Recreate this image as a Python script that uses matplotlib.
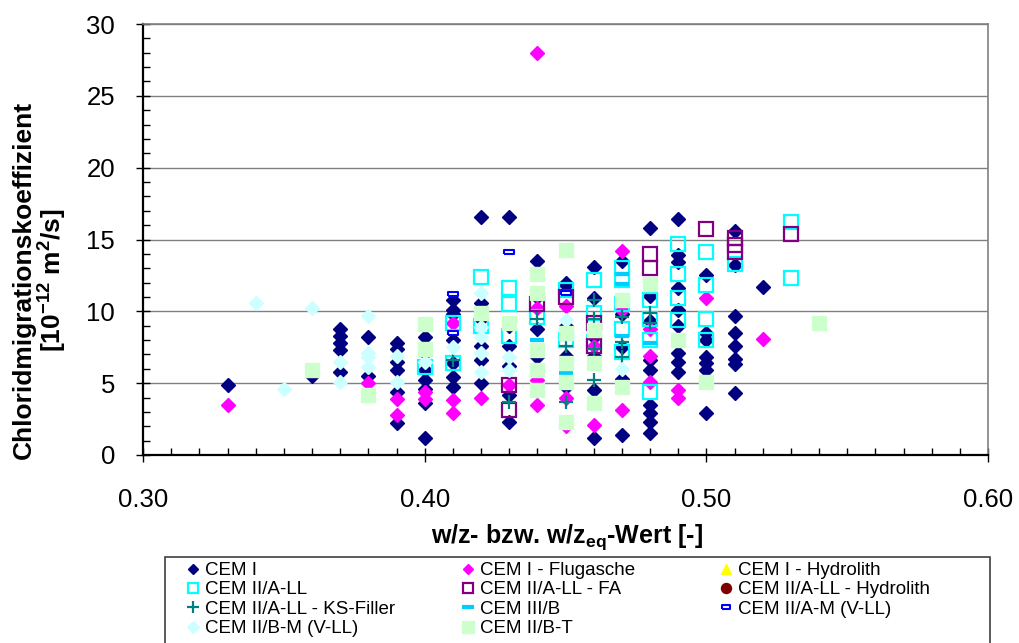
import numpy as np
import matplotlib
matplotlib.use("Agg")
import matplotlib.pyplot as plt
from matplotlib.patches import Rectangle
from matplotlib.ticker import MultipleLocator, FormatStrFormatter

plt.rcParams['font.family'] = ['Liberation Sans', 'DejaVu Sans']
plt.rcParams['mathtext.fontset'] = 'custom'
plt.rcParams['mathtext.rm'] = 'Liberation Sans'
plt.rcParams['mathtext.bf'] = 'Liberation Sans:bold'

# CEM I
cem1_x = [0.33, 0.36, 0.37, 0.37, 0.37, 0.37, 0.37, 0.38, 0.38,
          0.39, 0.39, 0.39, 0.39, 0.39, 0.39,
          0.40, 0.40, 0.40, 0.40, 0.40, 0.40, 0.40,
          0.41, 0.41, 0.41, 0.41, 0.41, 0.41, 0.41,
          0.42, 0.42, 0.42, 0.42, 0.42, 0.42,
          0.43, 0.43, 0.43, 0.43, 0.43, 0.43,
          0.44, 0.44, 0.44, 0.44, 0.44,
          0.45, 0.45, 0.45, 0.45, 0.45,
          0.46, 0.46, 0.46, 0.46, 0.46, 0.46,
          0.47, 0.47, 0.47, 0.47, 0.47,
          0.48, 0.48, 0.48, 0.48, 0.48, 0.48, 0.48, 0.48, 0.48,
          0.49, 0.49, 0.49, 0.49, 0.49, 0.49, 0.49, 0.49, 0.49,
          0.50, 0.50, 0.50, 0.50, 0.50, 0.50, 0.50,
          0.51, 0.51, 0.51, 0.51, 0.51, 0.51, 0.51, 0.51,
          0.52]
cem1_y = [4.9, 5.5, 8.8, 8.3, 7.8, 7.3, 5.8, 8.2, 5.5,
          7.8, 7.4, 6.5, 5.9, 4.4, 2.2,
          8.2, 7.1, 5.9, 5.2, 4.6, 3.6, 1.2,
          10.8, 10.1, 6.4, 5.4, 4.7, 9.8, 8.0,
          16.6, 10.6, 7.6, 6.6, 5.0, 9.5,
          16.6, 7.6, 2.3, 6.2, 4.2, 9.0,
          13.5, 8.8, 6.8, 11.0, 5.6,
          12.0, 11.8, 9.0, 6.9, 4.7,
          13.1, 10.9, 4.5, 1.2, 8.2, 6.9,
          13.5, 5.3, 1.4, 9.8, 7.5,
          15.8, 11.1, 5.9, 3.5, 2.9, 2.3, 1.5, 9.3, 6.6,
          16.4, 13.9, 13.4, 11.6, 10.1, 7.1, 6.5, 5.8, 9.0,
          12.5, 8.5, 6.8, 6.4, 5.9, 2.9, 8.0,
          15.6, 13.2, 9.7, 8.5, 7.6, 6.7, 6.3, 4.3,
          11.7]

# CEM I - Flugasche
fa_x = [0.33, 0.38, 0.39, 0.39, 0.40, 0.40, 0.41, 0.41, 0.41, 0.42, 0.43,
        0.44, 0.44, 0.44, 0.44, 0.45, 0.45, 0.45, 0.46, 0.46,
        0.47, 0.47, 0.47, 0.48, 0.48, 0.48, 0.49, 0.49, 0.50, 0.52]
fa_y = [3.5, 5.0, 3.9, 2.8, 4.4, 3.9, 9.2, 3.8, 2.9, 4.0, 4.9,
        28.0, 10.2, 5.2, 3.5, 10.4, 4.0, 2.0, 7.6, 2.1,
        14.2, 10.1, 3.1, 8.8, 6.9, 5.1, 4.5, 4.0, 10.9, 8.1]

# CEM I - Hydrolith (keine sichtbaren Punkte)
hyd_x = []
hyd_y = []

# CEM II/A-LL
ll_x = [0.40, 0.41, 0.41, 0.42, 0.42, 0.43, 0.43, 0.43, 0.44, 0.45, 0.45,
        0.46, 0.46, 0.46, 0.47, 0.47, 0.47, 0.47, 0.47,
        0.48, 0.48, 0.48, 0.48, 0.49, 0.49, 0.49, 0.49,
        0.50, 0.50, 0.50, 0.50, 0.51, 0.53, 0.53]
ll_y = [6.1, 9.2, 6.4, 12.4, 9.0, 11.6, 10.5, 8.3, 9.6, 11.5, 8.0,
        12.2, 9.9, 7.9, 13.0, 12.2, 8.8, 7.2, 10.5,
        10.8, 8.0, 4.4, 9.5, 14.7, 12.6, 10.9, 9.4,
        14.1, 11.8, 9.5, 8.0, 13.3, 16.2, 12.3]

# CEM II/A-LL - FA
llfa_x = [0.43, 0.43, 0.44, 0.45, 0.46, 0.46, 0.48, 0.48, 0.50,
          0.51, 0.51, 0.51, 0.53]
llfa_y = [4.9, 3.1, 10.5, 11.0, 9.2, 7.6, 14.0, 13.0, 15.7,
          15.1, 14.6, 14.1, 15.4]

# CEM II/A-LL - Hydrolith (keine sichtbaren Punkte)
llhyd_x = []
llhyd_y = []

# CEM II/A-LL - KS-Filler
ks_x = [0.41, 0.43, 0.44, 0.45, 0.45, 0.46, 0.46, 0.46, 0.46,
        0.47, 0.47, 0.47, 0.48, 0.48]
ks_y = [6.6, 3.7, 9.5, 7.6, 3.7, 10.8, 7.4, 5.2, 9.5,
        9.6, 7.9, 6.8, 9.9, 9.2]

# CEM III/B
c3_x = [0.44, 0.45, 0.47, 0.47, 0.47, 0.48]
c3_y = [8.0, 5.7, 12.6, 11.9, 8.3, 7.8]

# CEM II/A-M (V-LL)
am_x = [0.41, 0.41, 0.43, 0.45]
am_y = [11.2, 8.5, 14.1, 11.3]

# CEM II/B-M (V-LL)
bm_x = [0.34, 0.35, 0.36, 0.37, 0.37, 0.38, 0.38, 0.38, 0.38, 0.39, 0.39,
        0.40, 0.41, 0.42, 0.42, 0.42, 0.42, 0.42, 0.43, 0.43, 0.45, 0.47]
bm_y = [10.6, 4.6, 10.2, 6.5, 5.1, 9.7, 7.1, 6.8, 6.1, 6.9, 5.1,
        6.5, 7.5, 11.3, 8.9, 8.2, 7.1, 5.8, 6.8, 5.9, 9.4, 6.0]

# CEM II/B-T
bt_x = [0.36, 0.38, 0.40, 0.40, 0.42, 0.43, 0.44, 0.44, 0.44, 0.44, 0.44,
        0.45, 0.45, 0.45, 0.45, 0.45, 0.46, 0.46, 0.46, 0.47, 0.47,
        0.48, 0.49, 0.50, 0.54]
bt_y = [5.9, 4.2, 9.1, 7.4, 9.9, 9.2, 12.6, 11.3, 7.3, 5.9, 4.5,
        14.3, 8.5, 6.4, 5.1, 2.3, 8.7, 6.4, 3.6, 10.8, 4.7,
        11.9, 8.0, 5.1, 9.2]

dash_box = [(-1, -0.4), (1, -0.4), (1, 0.4), (-1, 0.4), (-1, -0.4)]

W, H = 1019, 643
fig = plt.figure(figsize=(W / 100, H / 100), dpi=100)
ax = fig.add_axes([143 / W, 1 - 455 / H, 845 / W, 431 / H])

h = []
h.append(ax.plot(cem1_x, cem1_y, 'D', ms=6.8, color='#000080', mec='#000080', label='CEM I')[0])
h.append(ax.plot(fa_x, fa_y, 'D', ms=6.8, color='#FF00FF', mec='#FF00FF', label='CEM I - Flugasche')[0])
h.append(ax.plot(hyd_x, hyd_y, '^', ms=9, color='#FFFF00', mec='#FFFF00', label='CEM I - Hydrolith')[0])
h.append(ax.plot(ll_x, ll_y, 's', ms=9.5, mfc='none', mec='#00FFFF', mew=1.6, label='CEM II/A-LL')[0])
h.append(ax.plot(llfa_x, llfa_y, 's', ms=9.5, mfc='none', mec='#800080', mew=1.6, label='CEM II/A-LL - FA')[0])
h.append(ax.plot(llhyd_x, llhyd_y, 'o', ms=9, color='#800000', label='CEM II/A-LL - Hydrolith')[0])
h.append(ax.plot(ks_x, ks_y, '+', ms=10, mew=1.6, color='#008080', label='CEM II/A-LL - KS-Filler')[0])
h.append(ax.plot(c3_x, c3_y, '_', ms=10, mew=3, color='#00CCFF', label='CEM III/B')[0])
h.append(ax.plot(am_x, am_y, marker=dash_box, ls='none', ms=7, mfc='white', mec='#0000FF', mew=1.5,
                 label='CEM II/A-M (V-LL)')[0])
h.append(ax.plot(bm_x, bm_y, 'D', ms=7.2, color='#CCFFFF', mec='#CCFFFF', label='CEM II/B-M (V-LL)')[0])
h.append(ax.plot(bt_x, bt_y, 's', ms=10.5, color='#CCFFCC', mec='#CCFFCC', label='CEM II/B-T')[0])

ax.set_xlim(0.30, 0.60)
ax.set_ylim(0, 30)
ax.xaxis.set_major_locator(MultipleLocator(0.1))
ax.xaxis.set_minor_locator(MultipleLocator(0.01))
ax.yaxis.set_major_locator(MultipleLocator(5))
ax.yaxis.set_minor_locator(MultipleLocator(1))
ax.xaxis.set_major_formatter(FormatStrFormatter('%.2f'))
ax.tick_params(which='major', direction='inout', length=10, width=1, labelsize=18.5)
ax.tick_params(axis='x', which='major', pad=19)
ax.tick_params(axis='y', which='major', pad=15)
ax.tick_params(which='minor', direction='in', length=5, width=1)
ax.grid(True, which='major', axis='y', color='#808080', lw=1)
ax.set_axisbelow(True)
for s in ['left', 'bottom']:
    ax.spines[s].set_color('black')
    ax.spines[s].set_linewidth(1.6)
for s in ['top', 'right']:
    ax.spines[s].set_color('#808080')
    ax.spines[s].set_linewidth(1.2)

fig.text(567 / W, 1 - 537 / H, 'w/z- bzw. w/z$_{\\mathbf{eq}}$-Wert [-]',
         fontsize=18, fontweight='bold', ha='center', va='center')
fig.text(40 / W, 1 - 280 / H,
         'Chloridmigrationskoeffizient\n[10$^{\\mathbf{-12}}$ m$^{\\mathbf{2}}$/s]',
         fontsize=19, fontweight='bold', ha='center', va='center', rotation=90,
         linespacing=1.0, multialignment='center')

# Legende: Rahmen plus drei Spalten
fig.patches.append(Rectangle((165 / W, -0.05), 825 / W, 1 - 557 / H + 0.05,
                             transform=fig.transFigure, fill=False,
                             edgecolor='#404040', lw=1.2))
cols = [[0, 3, 6, 9], [1, 4, 7, 10], [2, 5, 8]]
col_x = [185, 460, 718]
for c, xs in zip(cols, col_x):
    fig.legend([h[i] for i in c], [h[i].get_label() for i in c],
               loc='upper left', bbox_to_anchor=(xs / W, 1 - 562 / H),
               fontsize=13.5, frameon=False, markerscale=0.8,
               handlelength=0.8, handletextpad=0.25, labelspacing=0.12,
               borderpad=0, borderaxespad=0)

fig.savefig('out.png', dpi=100)
